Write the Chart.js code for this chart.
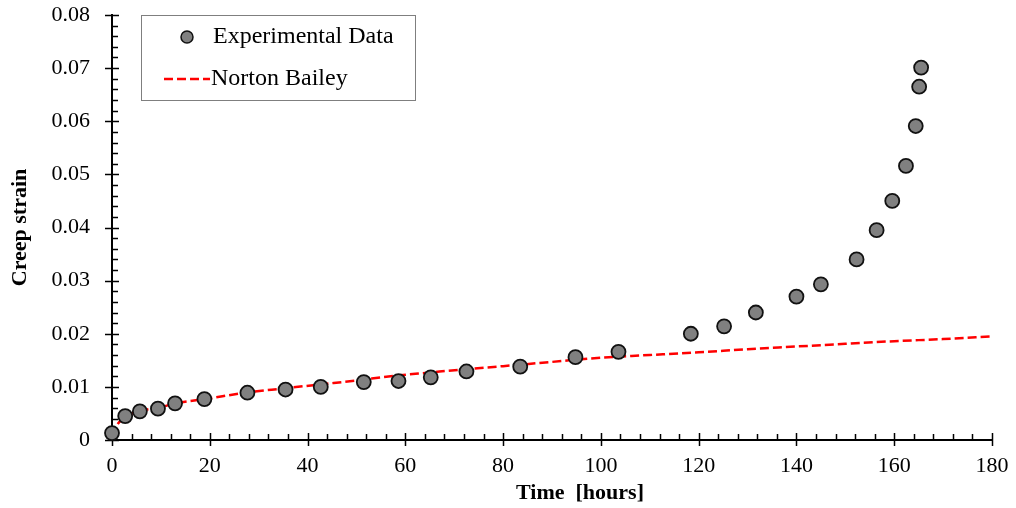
<!DOCTYPE html>
<html>
<head>
<meta charset="utf-8">
<script src="https://cdn.jsdelivr.net/npm/chart.js@4.4.1/dist/chart.umd.min.js"></script>
<style>
html,body{margin:0;padding:0;background:#fff;}
#wrap{width:1016px;height:508px;}
</style>
</head>
<body>
<div id="wrap"><canvas id="c" width="1016" height="508"></canvas></div>
<script>
// Experimental data (time in hours, creep strain)
const expTime   = [0, 2.7, 5.7, 9.4, 12.9, 18.9, 27.7, 35.5, 42.7, 51.5, 58.6, 65.2, 72.5, 83.5, 94.8, 103.6, 118.4, 125.2, 131.7, 140.0, 145.0, 152.3, 156.4, 159.6, 162.4, 164.4, 165.1, 165.5];
const expStrain = [0.0013, 0.0045, 0.0054, 0.0059, 0.0069, 0.0077, 0.0089, 0.0095, 0.0100, 0.0109, 0.0111, 0.0118, 0.0129, 0.0138, 0.0156, 0.0166, 0.0200, 0.0214, 0.0240, 0.0270, 0.0293, 0.0340, 0.0395, 0.0450, 0.0516, 0.0591, 0.0665, 0.0701];
// Norton Bailey model curve
const nbTime   = [0, 1, 3, 6, 10, 13, 19, 28, 35, 43, 50, 57, 65, 72, 80, 90, 100, 110, 120, 130, 140, 150, 160, 170, 180];
const nbStrain = [0.0008, 0.0028, 0.0045, 0.0055, 0.0062, 0.0069, 0.0077, 0.0090, 0.0097, 0.0105, 0.0112, 0.0120, 0.0127, 0.0133, 0.0139, 0.0147, 0.0155, 0.0160, 0.0165, 0.0171, 0.0176, 0.0181, 0.0186, 0.0190, 0.0195];
// Tick labels
const xTicks = [0, 20, 40, 60, 80, 100, 120, 140, 160, 180];
const yTicks = [0, 0.01, 0.02, 0.03, 0.04, 0.05, 0.06, 0.07, 0.08];
const yTickLabels = ["0", "0.01", "0.02", "0.03", "0.04", "0.05", "0.06", "0.07", "0.08"];
const labels = {exp: "Experimental Data", nb: "Norton Bailey", x: "Time  [hours]", y: "Creep strain"};

const FONT = "'Liberation Serif', 'Times New Roman', serif";

const tickPlugin = {
  id: 'ticksCustom',
  beforeDatasetsDraw(chart) {
    const ctx = chart.ctx;
    const xs = chart.scales.x, ys = chart.scales.y;
    const a = chart.chartArea;
    ctx.save();
    ctx.strokeStyle = '#000';
    ctx.lineWidth = 1.5;
    ctx.beginPath();
    for (let v = 0; v <= 180 + 1e-9; v += 4) {
      const px = Math.round(xs.getPixelForValue(v)) + 0.5;
      const major = Math.abs(v % 20) < 1e-9;
      ctx.moveTo(px, a.bottom + (major ? 6 : 0));
      ctx.lineTo(px, a.bottom - (major ? 7 : 6));
    }
    for (let i = 0; i <= 40; i++) {
      const v = i * 0.002;
      const py = Math.round(ys.getPixelForValue(v)) + 0.5;
      const major = i % 5 === 0;
      ctx.moveTo(a.left - (major ? 7 : 0), py);
      ctx.lineTo(a.left + (major ? 7 : 6), py);
    }
    ctx.stroke();
    ctx.restore();
  }
};

const titlePlugin = {
  id: 'xTitleCustom',
  afterDraw(chart) {
    const ctx = chart.ctx;
    const a = chart.chartArea;
    ctx.save();
    ctx.fillStyle = '#000';
    ctx.font = "bold 22px " + FONT;
    ctx.textAlign = 'center';
    ctx.textBaseline = 'middle';
    ctx.fillText(labels.x, (a.left + a.right) / 2 + 28, 493);
    ctx.restore();
  }
};

const legendPlugin = {
  id: 'legendCustom',
  afterDraw(chart) {
    const ctx = chart.ctx;
    ctx.save();
    ctx.fillStyle = '#fff';
    ctx.fillRect(141, 15, 274, 85);
    ctx.strokeStyle = '#7f7f7f';
    ctx.lineWidth = 1;
    ctx.strokeRect(141.5, 15.5, 274, 85);
    const ds0 = chart.data.datasets[0], ds1 = chart.data.datasets[1];
    ctx.beginPath();
    ctx.arc(187, 37, 6, 0, Math.PI * 2);
    ctx.fillStyle = ds0.backgroundColor;
    ctx.fill();
    ctx.lineWidth = 1.5;
    ctx.strokeStyle = ds0.borderColor;
    ctx.stroke();
    ctx.beginPath();
    ctx.setLineDash(ds1.borderDash);
    ctx.strokeStyle = ds1.borderColor;
    ctx.lineWidth = ds1.borderWidth;
    ctx.moveTo(164, 79);
    ctx.lineTo(210, 79);
    ctx.stroke();
    ctx.setLineDash([]);
    ctx.fillStyle = '#000';
    ctx.font = "24px " + FONT;
    ctx.textBaseline = 'middle';
    ctx.textAlign = 'left';
    ctx.fillText(ds0.label, 213, 37);
    ctx.fillText(ds1.label, 211, 79);
    ctx.restore();
  }
};

new Chart(document.getElementById('c'), {
  type: 'scatter',
  data: {
    datasets: [
      {
        label: labels.exp,
        data: expTime.map((t, i) => ({x: t, y: expStrain[i]})),
        backgroundColor: '#808080',
        borderColor: '#111',
        borderWidth: 1.8,
        pointRadius: 7,
        showLine: false,
        clip: false,
        order: 0
      },
      {
        label: labels.nb,
        data: nbTime.map((t, i) => ({x: t, y: nbStrain[i]})),
        borderColor: '#ff0000',
        backgroundColor: '#ff0000',
        borderWidth: 2.5,
        borderDash: [9, 4],
        pointRadius: 0,
        showLine: true,
        cubicInterpolationMode: 'monotone',
        clip: false,
        order: 1
      }
    ]
  },
  options: {
    responsive: false,
    animation: false,
    events: [],
    layout: {padding: {left: 0, right: 24, top: 15, bottom: 0}},
    plugins: {legend: {display: false}, tooltip: {enabled: false}},
    scales: {
      x: {
        type: 'linear', min: 0, max: 180,
        afterFit: s => { s.height = 68; s.paddingLeft = 0; s.paddingRight = 0; },
        afterBuildTicks: s => { s.ticks = xTicks.map(v => ({value: v})); },
        border: {display: true, color: '#000', width: 2},
        grid: {drawOnChartArea: false, drawTicks: false},
        ticks: {padding: 13, color: '#000', font: {family: FONT, size: 22}, maxRotation: 0},
        title: {display: false}
      },
      y: {
        type: 'linear', min: 0, max: 0.08,
        afterFit: s => { s.width = 112; s.paddingTop = 0; s.paddingBottom = 0; },
        afterBuildTicks: s => { s.ticks = yTicks.map(v => ({value: v})); },
        border: {display: true, color: '#000', width: 2},
        grid: {drawOnChartArea: false, drawTicks: false},
        ticks: {padding: 22, color: '#000', font: {family: FONT, size: 22},
          callback: (v) => { const i = yTicks.findIndex(t => Math.abs(t - v) < 1e-9); return i >= 0 ? yTickLabels[i] : ''; }},
        title: {display: true, text: labels.y, color: '#000', font: {family: FONT, size: 22, weight: 'bold'}, padding: {top: 7, bottom: 0}}
      }
    }
  },
  plugins: [tickPlugin, legendPlugin, titlePlugin]
});
</script>
</body>
</html>
